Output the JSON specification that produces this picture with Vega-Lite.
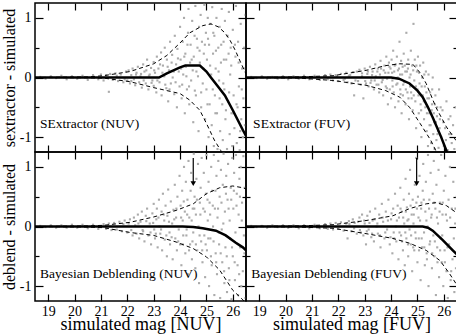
{
"$schema": "https://vega.github.io/schema/vega-lite/v6.json",
"padding": {"top": 1, "left": 0, "right": 2, "bottom": 0},
"config": {
  "view": {"stroke": "black", "strokeWidth": 1.5},
  "font": "Liberation Serif",
  "axis": {"domain": false, "grid": false, "tickColor": "black", "tickWidth": 1.2, "labelFont": "Liberation Serif", "labelFontSize": 14, "labelColor": "black", "titleFont": "Liberation Serif", "titleFontSize": 16, "titleFontWeight": "normal", "titleColor": "black", "zindex": 1, "labelFlush": false, "labelOverlap": false},
  "text": {"font": "Liberation Serif", "fontSize": 13.5, "color": "black", "align": "left", "baseline": "alphabetic"}
},
"datasets": {
"A": [{"x":18.7,"y":0.01},{"x":18.9,"y":-0.02},{"x":19.1,"y":0.02},{"x":19.3,"y":-0.01},{"x":19.5,"y":0.03},{"x":19.7,"y":-0.03},{"x":19.9,"y":0.02},{"x":20.1,"y":-0.02},{"x":20.3,"y":0.03},{"x":20.5,"y":-0.04},{"x":20.7,"y":0.04},{"x":20.9,"y":-0.03},{"x":21.0,"y":0.05},{"x":21.1,"y":-0.05},{"x":21.2,"y":0.04},{"x":21.3,"y":-0.24},{"x":21.35,"y":0.06},{"x":21.45,"y":-0.04},{"x":21.55,"y":0.07},{"x":21.65,"y":-0.06},{"x":21.75,"y":0.05},{"x":21.85,"y":-0.08},{"x":21.95,"y":0.1},
{"x":22.0,"y":-0.05},{"x":22.05,"y":0.12},{"x":22.1,"y":-0.1},{"x":22.15,"y":0.04},{"x":22.2,"y":0.15},{"x":22.25,"y":-0.03},{"x":22.3,"y":-0.13},{"x":22.35,"y":0.08},{"x":22.4,"y":0.18},{"x":22.45,"y":-0.08},{"x":22.5,"y":0.02},{"x":22.55,"y":-0.17},{"x":22.6,"y":0.22},{"x":22.65,"y":0.1},{"x":22.7,"y":-0.1},{"x":22.75,"y":0.3},{"x":22.8,"y":-0.2},{"x":22.85,"y":0.05},{"x":22.9,"y":0.16},{"x":22.95,"y":-0.05},{"x":23.0,"y":0.26},{"x":23.0,"y":-0.14},
{"x":23.05,"y":0.08},{"x":23.1,"y":-0.25},{"x":23.12,"y":0.35},{"x":23.18,"y":0.15},{"x":23.22,"y":-0.08},{"x":23.28,"y":0.42},{"x":23.3,"y":-0.3},{"x":23.35,"y":0.2},{"x":23.4,"y":0.02},{"x":23.42,"y":0.5},{"x":23.48,"y":-0.18},{"x":23.5,"y":0.3},{"x":23.55,"y":-0.4},{"x":23.58,"y":0.12},{"x":23.62,"y":0.6},{"x":23.65,"y":-0.1},{"x":23.7,"y":0.38},{"x":23.72,"y":0.0},{"x":23.78,"y":-0.28},{"x":23.8,"y":0.7},{"x":23.85,"y":0.22},{"x":23.88,"y":-0.5},{"x":23.9,"y":0.48},{"x":23.95,"y":0.1},{"x":23.98,"y":-0.15},
{"x":24.0,"y":0.85},{"x":24.02,"y":0.3},{"x":24.06,"y":-0.35},{"x":24.1,"y":0.6},{"x":24.12,"y":0.05},{"x":24.15,"y":1.0},{"x":24.18,"y":-0.6},{"x":24.2,"y":0.4},{"x":24.22,"y":0.18},{"x":24.26,"y":-0.2},{"x":24.3,"y":0.75},{"x":24.32,"y":1.15},{"x":24.35,"y":-0.45},{"x":24.38,"y":0.25},{"x":24.4,"y":0.55},{"x":24.42,"y":-0.05},{"x":24.46,"y":0.95},{"x":24.5,"y":-0.75},{"x":24.52,"y":0.35},{"x":24.55,"y":0.7},{"x":24.58,"y":1.2},{"x":24.6,"y":-0.3},{"x":24.62,"y":0.1},{"x":24.66,"y":0.5},{"x":24.7,"y":-0.9},{"x":24.72,"y":0.85},{"x":24.75,"y":0.25},{"x":24.78,"y":1.05},{"x":24.8,"y":-0.5},{"x":24.83,"y":0.6},{"x":24.86,"y":-0.1},{"x":24.9,"y":0.4},{"x":24.92,"y":1.22},{"x":24.95,"y":-0.7},{"x":24.98,"y":0.75},
{"x":25.0,"y":-0.2},{"x":25.02,"y":0.3},{"x":25.05,"y":1.0},{"x":25.08,"y":-1.0},{"x":25.1,"y":0.55},{"x":25.12,"y":-0.45},{"x":25.15,"y":0.9},{"x":25.18,"y":0.05},{"x":25.2,"y":-0.8},{"x":25.22,"y":1.18},{"x":25.25,"y":0.4},{"x":25.28,"y":-1.15},{"x":25.3,"y":0.7},{"x":25.32,"y":-0.3},{"x":25.35,"y":0.15},{"x":25.38,"y":1.0},{"x":25.4,"y":-0.6},{"x":25.42,"y":-1.2},{"x":25.45,"y":0.5},{"x":25.48,"y":-0.05},{"x":25.5,"y":0.85},{"x":25.52,"y":-0.9},{"x":25.55,"y":0.25},{"x":25.58,"y":1.15},{"x":25.6,"y":-0.45},{"x":25.62,"y":-1.05},{"x":25.65,"y":0.6},{"x":25.68,"y":-0.2},{"x":25.7,"y":0.95},{"x":25.72,"y":-0.7},{"x":25.75,"y":0.3},{"x":25.78,"y":-1.2},{"x":25.8,"y":0.7},{"x":25.82,"y":-0.4},{"x":25.85,"y":1.1},{"x":25.88,"y":-0.95},{"x":25.9,"y":0.05},{"x":25.92,"y":0.5},{"x":25.95,"y":-0.6},{"x":25.98,"y":-1.15},
{"x":26.0,"y":0.8},{"x":26.03,"y":-0.3},{"x":26.06,"y":-0.85},{"x":26.1,"y":0.35},{"x":26.12,"y":1.2},{"x":26.15,"y":-1.1},{"x":26.18,"y":-0.5},{"x":26.2,"y":0.6},{"x":26.23,"y":-0.15},{"x":26.26,"y":-1.22},{"x":26.3,"y":0.9},{"x":26.32,"y":-0.7},{"x":26.35,"y":0.15},{"x":26.38,"y":-1.0},{"x":26.4,"y":-0.35},{"x":26.43,"y":0.5},{"x":26.46,"y":-0.8},{"x":26.48,"y":1.05},
{"x":22.52,"y":0.06},{"x":22.62,"y":-0.05},{"x":22.72,"y":0.12},{"x":22.82,"y":0.03},{"x":22.92,"y":-0.09},{"x":23.02,"y":0.12},{"x":23.14,"y":-0.05},{"x":23.24,"y":0.22},{"x":23.33,"y":0.08},{"x":23.44,"y":-0.12},{"x":23.53,"y":0.18},{"x":23.6,"y":-0.2},{"x":23.68,"y":0.25},{"x":23.76,"y":0.1},{"x":23.83,"y":-0.08},{"x":23.92,"y":0.32},{"x":24.04,"y":0.15},{"x":24.08,"y":-0.12},{"x":24.16,"y":0.35},{"x":24.24,"y":0.02},{"x":24.28,"y":0.55},{"x":24.34,"y":-0.15},{"x":24.44,"y":0.3},{"x":24.48,"y":0.12},{"x":24.56,"y":-0.22},{"x":24.64,"y":0.65},{"x":24.68,"y":0.02},{"x":24.74,"y":0.45},{"x":24.8,"y":-0.25},{"x":24.88,"y":0.15},{"x":24.94,"y":0.55},{"x":25.04,"y":-0.45},{"x":25.06,"y":0.65},{"x":25.14,"y":0.2},{"x":25.24,"y":-0.2},{"x":25.26,"y":0.75},{"x":25.34,"y":-0.6},{"x":25.36,"y":0.45},{"x":25.46,"y":0.1},{"x":25.5,"y":-0.35},{"x":25.56,"y":0.55},{"x":25.64,"y":-0.1},{"x":25.66,"y":0.3},{"x":25.74,"y":-0.55},{"x":25.84,"y":0.4},{"x":25.86,"y":-0.25},{"x":25.94,"y":0.2},{"x":26.02,"y":-0.6},{"x":26.08,"y":0.55},{"x":26.14,"y":-0.45},{"x":26.22,"y":0.25},{"x":26.28,"y":-0.9},{"x":26.34,"y":-0.2},{"x":26.44,"y":0.15},{"x":21.6,"y":0.03},{"x":21.9,"y":-0.03},{"x":22.15,"y":-0.06},{"x":22.33,"y":0.05}],
"B": [{"x":18.7,"y":0.01},{"x":18.9,"y":-0.01},{"x":19.1,"y":0.02},{"x":19.3,"y":-0.02},{"x":19.5,"y":0.01},{"x":19.7,"y":-0.02},{"x":19.9,"y":0.02},{"x":20.1,"y":-0.03},{"x":20.3,"y":0.02},{"x":20.5,"y":-0.02},{"x":20.7,"y":0.03},{"x":20.9,"y":-0.03},{"x":21.1,"y":0.03},{"x":21.3,"y":-0.04},{"x":21.5,"y":0.04},{"x":21.6,"y":-0.03},{"x":21.7,"y":0.05},{"x":21.8,"y":-0.05},{"x":21.9,"y":0.04},{"x":22.0,"y":-0.06},{"x":22.1,"y":0.06},{"x":22.2,"y":-0.04},{"x":22.3,"y":0.08},{"x":22.35,"y":-0.08},{"x":22.4,"y":0.03},{"x":22.5,"y":-0.1},{"x":22.55,"y":0.09},{"x":22.6,"y":-0.3},{"x":22.7,"y":0.1},{"x":22.75,"y":-0.06},{"x":22.8,"y":0.13},{"x":22.85,"y":-0.12},{"x":22.9,"y":0.02},{"x":22.95,"y":-0.35},{"x":23.0,"y":0.15},{"x":23.05,"y":-0.1},{"x":23.1,"y":0.06},{"x":23.15,"y":-0.15},{"x":23.2,"y":0.18},{"x":23.25,"y":-0.05},{"x":23.3,"y":0.1},{"x":23.35,"y":-0.2},{"x":23.4,"y":0.22},{"x":23.42,"y":0.02},{"x":23.45,"y":-0.12},{"x":23.5,"y":0.15},{"x":23.55,"y":-0.25},{"x":23.58,"y":0.05},{"x":23.6,"y":0.28},{"x":23.65,"y":-0.08},{"x":23.7,"y":-0.3},{"x":23.72,"y":0.12},{"x":23.75,"y":0.2},{"x":23.8,"y":-0.15},{"x":23.82,"y":0.35},{"x":23.85,"y":-0.02},{"x":23.88,"y":-0.45},{"x":23.9,"y":0.08},{"x":23.92,"y":0.25},{"x":23.95,"y":-0.2},{"x":23.98,"y":0.15},
{"x":24.0,"y":-0.35},{"x":24.02,"y":0.3},{"x":24.05,"y":-0.05},{"x":24.08,"y":0.45},{"x":24.1,"y":-0.25},{"x":24.12,"y":0.1},{"x":24.15,"y":-0.5},{"x":24.18,"y":0.22},{"x":24.2,"y":-0.12},{"x":24.22,"y":0.35},{"x":24.25,"y":0.0},{"x":24.28,"y":-0.4},{"x":24.3,"y":0.15},{"x":24.32,"y":0.6},{"x":24.35,"y":-0.2},{"x":24.38,"y":0.28},{"x":24.4,"y":-0.6},{"x":24.42,"y":0.05},{"x":24.45,"y":-0.3},{"x":24.48,"y":0.4},{"x":24.5,"y":-0.08},{"x":24.52,"y":0.2},{"x":24.55,"y":-0.45},{"x":24.58,"y":0.75},{"x":24.6,"y":0.1},{"x":24.62,"y":-0.25},{"x":24.65,"y":0.3},{"x":24.68,"y":-0.7},{"x":24.7,"y":0.0},{"x":24.72,"y":-0.15},{"x":24.75,"y":0.45},{"x":24.78,"y":-0.35},{"x":24.8,"y":0.2},{"x":24.82,"y":-0.55},{"x":24.85,"y":0.9},{"x":24.88,"y":-0.05},{"x":24.9,"y":0.3},{"x":24.92,"y":-0.4},{"x":24.95,"y":-0.85},{"x":24.98,"y":0.1},
{"x":25.0,"y":-0.2},{"x":25.02,"y":0.35},{"x":25.05,"y":-0.6},{"x":25.08,"y":-0.1},{"x":25.1,"y":0.2},{"x":25.12,"y":-0.45},{"x":25.15,"y":-1.0},{"x":25.18,"y":0.0},{"x":25.2,"y":-0.3},{"x":25.22,"y":0.25},{"x":25.25,"y":-0.7},{"x":25.28,"y":-0.15},{"x":25.3,"y":-0.5},{"x":25.32,"y":0.1},{"x":25.35,"y":-0.9},{"x":25.38,"y":-0.35},{"x":25.4,"y":-1.15},{"x":25.42,"y":0.05},{"x":25.45,"y":-0.6},{"x":25.48,"y":-0.25},{"x":25.5,"y":-0.8},{"x":25.52,"y":-1.1},{"x":25.55,"y":-0.45},{"x":25.58,"y":0.0},{"x":25.6,"y":-0.95},{"x":25.62,"y":-0.6},{"x":25.65,"y":-1.2},{"x":25.68,"y":-0.3},{"x":25.7,"y":-0.75},{"x":25.72,"y":-1.05},{"x":25.75,"y":-0.5},{"x":25.78,"y":-0.9},{"x":25.8,"y":-1.18},{"x":25.82,"y":-0.2},{"x":25.85,"y":-0.7},{"x":25.9,"y":-1.0},{"x":25.95,"y":-0.55},{"x":26.0,"y":-1.15},{"x":26.05,"y":-0.85},{"x":26.1,"y":-0.4},{"x":26.15,"y":-1.22},{"x":26.2,"y":-0.95},{"x":26.25,"y":-0.65},{"x":26.3,"y":-1.1},{"x":26.35,"y":-0.8},{"x":26.4,"y":-1.2},{"x":26.45,"y":-0.5},
{"x":22.45,"y":0.04},{"x":22.65,"y":-0.05},{"x":22.9,"y":0.07},{"x":23.02,"y":-0.06},{"x":23.12,"y":0.1},{"x":23.22,"y":-0.09},{"x":23.28,"y":0.04},{"x":23.38,"y":-0.05},{"x":23.48,"y":0.1},{"x":23.52,"y":-0.12},{"x":23.62,"y":0.15},{"x":23.68,"y":-0.04},{"x":23.78,"y":0.08},{"x":23.84,"y":-0.18},{"x":23.94,"y":0.18},{"x":24.04,"y":0.08},{"x":24.06,"y":-0.15},{"x":24.14,"y":0.2},{"x":24.24,"y":-0.1},{"x":24.26,"y":0.12},{"x":24.34,"y":0.05},{"x":24.36,"y":-0.28},{"x":24.44,"y":0.18},{"x":24.46,"y":-0.12},{"x":24.54,"y":0.1},{"x":24.56,"y":-0.2},{"x":24.64,"y":0.15},{"x":24.66,"y":-0.35},{"x":24.74,"y":0.05},{"x":24.76,"y":-0.25},{"x":24.84,"y":0.12},{"x":24.86,"y":-0.3},{"x":24.94,"y":-0.15},{"x":24.96,"y":0.2},{"x":25.04,"y":-0.3},{"x":25.06,"y":0.08},{"x":25.14,"y":-0.55},{"x":25.16,"y":-0.15},{"x":25.24,"y":-0.4},{"x":25.26,"y":0.05},{"x":25.34,"y":-0.25},{"x":25.36,"y":-0.6},{"x":25.44,"y":-0.35},{"x":25.46,"y":-0.8},{"x":25.54,"y":-0.55},{"x":25.56,"y":-0.2},{"x":25.64,"y":-0.75},{"x":25.66,"y":-0.45},{"x":25.74,"y":-0.65},{"x":25.76,"y":-0.95},{"x":25.84,"y":-0.85},{"x":25.88,"y":-0.5},{"x":25.98,"y":-0.75},{"x":26.08,"y":-1.05},{"x":26.18,"y":-0.7},{"x":26.28,"y":-0.95},{"x":21.95,"y":0.02},{"x":22.25,"y":-0.02}],
"C": [{"x":18.7,"y":0.01},{"x":18.9,"y":-0.01},{"x":19.1,"y":0.02},{"x":19.3,"y":-0.02},{"x":19.5,"y":0.02},{"x":19.7,"y":-0.02},{"x":19.9,"y":0.03},{"x":20.1,"y":-0.02},{"x":20.3,"y":0.03},{"x":20.5,"y":-0.03},{"x":20.7,"y":0.03},{"x":20.9,"y":-0.04},{"x":21.1,"y":0.04},{"x":21.2,"y":-0.04},{"x":21.3,"y":0.05},{"x":21.4,"y":-0.06},{"x":21.5,"y":0.06},{"x":21.6,"y":-0.05},{"x":21.7,"y":0.08},{"x":21.8,"y":-0.08},{"x":21.85,"y":0.04},{"x":21.9,"y":0.1},{"x":22.0,"y":-0.1},{"x":22.05,"y":0.05},{"x":22.1,"y":0.12},{"x":22.15,"y":-0.06},{"x":22.2,"y":-0.15},{"x":22.25,"y":0.15},{"x":22.3,"y":0.02},{"x":22.35,"y":-0.12},{"x":22.4,"y":0.2},{"x":22.45,"y":-0.2},{"x":22.5,"y":0.08},{"x":22.55,"y":0.25},{"x":22.6,"y":-0.08},{"x":22.65,"y":-0.25},{"x":22.7,"y":0.18},{"x":22.75,"y":0.3},{"x":22.8,"y":-0.15},{"x":22.85,"y":0.05},{"x":22.9,"y":-0.3},{"x":22.95,"y":0.22},
{"x":23.0,"y":0.38},{"x":23.02,"y":-0.05},{"x":23.05,"y":-0.2},{"x":23.1,"y":0.12},{"x":23.12,"y":0.3},{"x":23.15,"y":-0.35},{"x":23.2,"y":0.45},{"x":23.22,"y":0.0},{"x":23.25,"y":-0.12},{"x":23.3,"y":0.25},{"x":23.32,"y":-0.4},{"x":23.35,"y":0.55},{"x":23.4,"y":0.1},{"x":23.42,"y":-0.22},{"x":23.45,"y":0.35},{"x":23.5,"y":-0.5},{"x":23.52,"y":0.18},{"x":23.55,"y":0.62},{"x":23.6,"y":-0.1},{"x":23.62,"y":-0.3},{"x":23.65,"y":0.42},{"x":23.7,"y":0.05},{"x":23.72,"y":-0.55},{"x":23.75,"y":0.28},{"x":23.8,"y":0.7},{"x":23.82,"y":-0.2},{"x":23.85,"y":0.15},{"x":23.88,"y":-0.4},{"x":23.9,"y":0.5},{"x":23.95,"y":-0.05},{"x":23.98,"y":0.85},
{"x":24.0,"y":-0.3},{"x":24.02,"y":0.35},{"x":24.05,"y":-0.65},{"x":24.08,"y":0.6},{"x":24.1,"y":0.1},{"x":24.12,"y":-0.15},{"x":24.15,"y":1.0},{"x":24.18,"y":0.25},{"x":24.2,"y":-0.45},{"x":24.22,"y":0.75},{"x":24.25,"y":-0.05},{"x":24.28,"y":0.45},{"x":24.3,"y":-0.8},{"x":24.32,"y":1.1},{"x":24.35,"y":0.15},{"x":24.38,"y":-0.3},{"x":24.4,"y":0.6},{"x":24.42,"y":0.9},{"x":24.45,"y":-0.55},{"x":24.48,"y":0.3},{"x":24.5,"y":-0.1},{"x":24.52,"y":1.22},{"x":24.55,"y":0.5},{"x":24.58,"y":-0.7},{"x":24.6,"y":0.2},{"x":24.62,"y":0.8},{"x":24.65,"y":-0.4},{"x":24.68,"y":1.05},{"x":24.7,"y":0.0},{"x":24.72,"y":-0.95},{"x":24.75,"y":0.4},{"x":24.78,"y":0.65},{"x":24.8,"y":-0.25},{"x":24.82,"y":1.15},{"x":24.85,"y":-0.6},{"x":24.88,"y":0.3},{"x":24.9,"y":0.9},{"x":24.92,"y":-0.15},{"x":24.95,"y":-0.85},{"x":24.98,"y":0.55},
{"x":25.0,"y":1.2},{"x":25.02,"y":-0.4},{"x":25.05,"y":0.1},{"x":25.08,"y":0.75},{"x":25.1,"y":-1.0},{"x":25.12,"y":0.4},{"x":25.15,"y":-0.2},{"x":25.18,"y":1.0},{"x":25.2,"y":-0.65},{"x":25.22,"y":0.6},{"x":25.25,"y":0.0},{"x":25.28,"y":1.2},{"x":25.3,"y":-1.15},{"x":25.32,"y":0.3},{"x":25.35,"y":-0.45},{"x":25.38,"y":0.85},{"x":25.4,"y":-0.8},{"x":25.42,"y":0.15},{"x":25.45,"y":1.1},{"x":25.48,"y":-0.3},{"x":25.5,"y":0.5},{"x":25.52,"y":-1.2},{"x":25.55,"y":0.95},{"x":25.58,"y":-0.05},{"x":25.6,"y":-0.6},{"x":25.62,"y":0.7},{"x":25.65,"y":1.22},{"x":25.68,"y":-0.95},{"x":25.7,"y":0.25},{"x":25.72,"y":-0.35},{"x":25.75,"y":0.85},{"x":25.78,"y":-1.1},{"x":25.8,"y":0.45},{"x":25.82,"y":1.05},{"x":25.85,"y":-0.7},{"x":25.88,"y":0.1},{"x":25.9,"y":-0.2},{"x":25.92,"y":0.65},{"x":25.95,"y":-1.22},{"x":25.98,"y":1.15},
{"x":26.0,"y":-0.5},{"x":26.02,"y":0.3},{"x":26.05,"y":0.9},{"x":26.08,"y":-0.9},{"x":26.1,"y":-0.1},{"x":26.12,"y":1.2},{"x":26.15,"y":0.55},{"x":26.18,"y":-0.65},{"x":26.2,"y":-1.15},{"x":26.22,"y":0.2},{"x":26.25,"y":0.8},{"x":26.28,"y":-0.35},{"x":26.3,"y":1.0},{"x":26.32,"y":-1.0},{"x":26.35,"y":0.4},{"x":26.38,"y":-0.75},{"x":26.4,"y":1.18},{"x":26.42,"y":-0.15},{"x":26.45,"y":0.65},{"x":26.48,"y":-1.2},
{"x":22.42,"y":0.05},{"x":22.58,"y":-0.06},{"x":22.72,"y":0.09},{"x":22.88,"y":-0.1},{"x":22.98,"y":0.06},{"x":23.08,"y":-0.12},{"x":23.18,"y":0.15},{"x":23.28,"y":-0.05},{"x":23.38,"y":0.2},{"x":23.48,"y":-0.15},{"x":23.58,"y":0.08},{"x":23.68,"y":-0.18},{"x":23.78,"y":0.12},{"x":23.86,"y":0.3},{"x":23.93,"y":-0.25},{"x":24.04,"y":0.15},{"x":24.1,"y":-0.3},{"x":24.14,"y":0.42},{"x":24.24,"y":-0.15},{"x":24.27,"y":0.2},{"x":24.34,"y":-0.4},{"x":24.44,"y":0.1},{"x":24.47,"y":-0.25},{"x":24.54,"y":0.3},{"x":24.6,"y":-0.3},{"x":24.64,"y":0.45},{"x":24.74,"y":-0.15},{"x":24.77,"y":0.2},{"x":24.84,"y":-0.4},{"x":24.94,"y":0.25},{"x":24.97,"y":-0.3},{"x":25.04,"y":0.45},{"x":25.07,"y":-0.2},{"x":25.14,"y":0.2},{"x":25.17,"y":-0.5},{"x":25.24,"y":0.35},{"x":25.27,"y":-0.25},{"x":25.34,"y":0.6},{"x":25.37,"y":-0.6},{"x":25.44,"y":0.3},{"x":25.47,"y":-0.1},{"x":25.54,"y":-0.45},{"x":25.57,"y":0.4},{"x":25.64,"y":0.05},{"x":25.67,"y":-0.75},{"x":25.74,"y":0.55},{"x":25.77,"y":-0.5},{"x":25.84,"y":0.3},{"x":25.87,"y":-0.9},{"x":25.94,"y":0.45},{"x":25.97,"y":-0.35},{"x":26.04,"y":0.6},{"x":26.07,"y":-0.6},{"x":26.14,"y":0.35},{"x":26.24,"y":-0.8},{"x":26.27,"y":0.5},{"x":26.34,"y":0.1},{"x":26.44,"y":-0.45}],
"D": [{"x":18.7,"y":0.01},{"x":18.9,"y":-0.01},{"x":19.1,"y":0.01},{"x":19.3,"y":-0.02},{"x":19.5,"y":0.02},{"x":19.7,"y":-0.01},{"x":19.9,"y":0.02},{"x":20.1,"y":-0.02},{"x":20.3,"y":0.02},{"x":20.5,"y":-0.03},{"x":20.7,"y":0.02},{"x":20.9,"y":-0.03},{"x":21.1,"y":0.03},{"x":21.3,"y":-0.03},{"x":21.5,"y":0.04},{"x":21.6,"y":-0.04},{"x":21.7,"y":0.05},{"x":21.8,"y":-0.05},{"x":21.9,"y":0.06},{"x":22.0,"y":-0.04},{"x":22.1,"y":0.07},{"x":22.2,"y":-0.07},{"x":22.3,"y":0.05},{"x":22.35,"y":-0.2},{"x":22.4,"y":0.09},{"x":22.5,"y":-0.08},{"x":22.55,"y":0.12},{"x":22.6,"y":-0.03},{"x":22.7,"y":-0.12},{"x":22.75,"y":0.08},{"x":22.8,"y":0.15},{"x":22.85,"y":-0.1},{"x":22.9,"y":0.2},{"x":22.95,"y":-0.15},
{"x":23.0,"y":0.05},{"x":23.05,"y":-0.3},{"x":23.1,"y":0.18},{"x":23.15,"y":-0.05},{"x":23.2,"y":0.25},{"x":23.25,"y":-0.18},{"x":23.3,"y":0.1},{"x":23.35,"y":-0.25},{"x":23.4,"y":0.3},{"x":23.45,"y":0.0},{"x":23.5,"y":-0.12},{"x":23.55,"y":0.2},{"x":23.6,"y":-0.35},{"x":23.65,"y":0.38},{"x":23.7,"y":0.08},{"x":23.75,"y":-0.2},{"x":23.8,"y":0.25},{"x":23.85,"y":-0.05},{"x":23.9,"y":0.45},{"x":23.95,"y":-0.3},
{"x":24.0,"y":0.12},{"x":24.05,"y":-0.45},{"x":24.08,"y":0.3},{"x":24.1,"y":-0.1},{"x":24.15,"y":0.55},{"x":24.18,"y":0.0},{"x":24.2,"y":-0.25},{"x":24.25,"y":0.35},{"x":24.28,"y":-0.55},{"x":24.3,"y":0.15},{"x":24.35,"y":0.65},{"x":24.38,"y":-0.15},{"x":24.4,"y":0.25},{"x":24.45,"y":-0.4},{"x":24.48,"y":0.45},{"x":24.5,"y":0.05},{"x":24.52,"y":-0.65},{"x":24.55,"y":0.8},{"x":24.58,"y":-0.2},{"x":24.6,"y":0.32},{"x":24.62,"y":0.1},{"x":24.65,"y":-0.5},{"x":24.68,"y":0.55},{"x":24.7,"y":-0.05},{"x":24.72,"y":0.95},{"x":24.75,"y":-0.3},{"x":24.78,"y":0.2},{"x":24.8,"y":-0.75},{"x":24.82,"y":0.45},{"x":24.85,"y":0.05},{"x":24.88,"y":-0.4},{"x":24.9,"y":0.7},{"x":24.92,"y":-0.1},{"x":24.95,"y":1.15},{"x":24.98,"y":0.3},
{"x":25.0,"y":-0.6},{"x":25.02,"y":0.5},{"x":25.05,"y":-0.2},{"x":25.08,"y":0.85},{"x":25.1,"y":0.1},{"x":25.12,"y":-0.9},{"x":25.15,"y":0.4},{"x":25.18,"y":-0.35},{"x":25.2,"y":0.6},{"x":25.22,"y":1.05},{"x":25.25,"y":-0.1},{"x":25.28,"y":-0.65},{"x":25.3,"y":0.25},{"x":25.32,"y":0.75},{"x":25.35,"y":-0.45},{"x":25.38,"y":0.0},{"x":25.4,"y":1.2},{"x":25.42,"y":-1.0},{"x":25.45,"y":0.45},{"x":25.48,"y":-0.25},{"x":25.5,"y":0.9},{"x":25.52,"y":0.15},{"x":25.55,"y":-0.7},{"x":25.58,"y":0.55},{"x":25.6,"y":-0.15},{"x":25.62,"y":1.1},{"x":25.65,"y":-0.5},{"x":25.68,"y":0.3},{"x":25.7,"y":-1.15},{"x":25.72,"y":0.7},{"x":25.75,"y":-0.35},{"x":25.78,"y":0.05},{"x":25.8,"y":0.95},{"x":25.82,"y":-0.85},{"x":25.85,"y":0.4},{"x":25.88,"y":-0.2},{"x":25.9,"y":1.2},{"x":25.92,"y":-0.6},{"x":25.95,"y":0.2},{"x":25.98,"y":-1.0},
{"x":26.0,"y":0.6},{"x":26.03,"y":-0.4},{"x":26.06,"y":0.85},{"x":26.1,"y":-0.75},{"x":26.12,"y":0.1},{"x":26.15,"y":-1.2},{"x":26.18,"y":0.45},{"x":26.2,"y":-0.3},{"x":26.23,"y":1.0},{"x":26.26,"y":-0.9},{"x":26.3,"y":0.3},{"x":26.33,"y":-0.55},{"x":26.36,"y":0.75},{"x":26.4,"y":-1.1},{"x":26.43,"y":0.05},{"x":26.46,"y":-0.7},{"x":26.49,"y":0.5},
{"x":22.42,"y":0.04},{"x":22.62,"y":0.06},{"x":22.82,"y":-0.06},{"x":22.98,"y":0.1},{"x":23.08,"y":-0.08},{"x":23.18,"y":0.06},{"x":23.28,"y":-0.12},{"x":23.38,"y":0.12},{"x":23.48,"y":0.05},{"x":23.58,"y":-0.15},{"x":23.68,"y":0.15},{"x":23.78,"y":-0.1},{"x":23.88,"y":0.1},{"x":23.98,"y":-0.18},{"x":24.02,"y":0.22},{"x":24.12,"y":-0.2},{"x":24.22,"y":0.1},{"x":24.32,"y":-0.1},{"x":24.36,"y":0.3},{"x":24.42,"y":-0.25},{"x":24.46,"y":0.15},{"x":24.54,"y":-0.1},{"x":24.56,"y":0.25},{"x":24.64,"y":-0.3},{"x":24.66,"y":0.12},{"x":24.74,"y":0.35},{"x":24.76,"y":-0.15},{"x":24.84,"y":-0.35},{"x":24.86,"y":0.2},{"x":24.94,"y":-0.2},{"x":24.96,"y":0.4},{"x":25.04,"y":0.15},{"x":25.06,"y":-0.4},{"x":25.14,"y":0.3},{"x":25.16,"y":-0.2},{"x":25.24,"y":0.45},{"x":25.26,"y":-0.35},{"x":25.34,"y":0.1},{"x":25.36,"y":-0.55},{"x":25.44,"y":0.3},{"x":25.46,"y":-0.3},{"x":25.54,"y":0.2},{"x":25.56,"y":-0.45},{"x":25.64,"y":0.4},{"x":25.66,"y":-0.25},{"x":25.74,"y":0.15},{"x":25.76,"y":-0.6},{"x":25.84,"y":0.25},{"x":25.86,"y":-0.4},{"x":25.94,"y":-0.15},{"x":25.96,"y":0.4},{"x":26.04,"y":-0.6},{"x":26.08,"y":0.2},{"x":26.14,"y":-0.35},{"x":26.24,"y":0.15},{"x":26.28,"y":-0.75},{"x":26.38,"y":-0.2},{"x":26.44,"y":0.3}],
"LA": [{"s":"m","x":18.5,"y":0},{"s":"m","x":23.2,"y":0},{"s":"m","x":23.5,"y":0.07},{"s":"m","x":24.0,"y":0.17},{"s":"m","x":24.2,"y":0.2},{"s":"m","x":24.75,"y":0.2},{"s":"m","x":25.0,"y":0.1},{"s":"m","x":25.17,"y":0},{"s":"m","x":25.4,"y":-0.13},{"s":"m","x":25.7,"y":-0.3},{"s":"m","x":26.0,"y":-0.55},{"s":"m","x":26.38,"y":-0.88},{"s":"m","x":26.5,"y":-0.98},
{"s":"u","x":18.5,"y":0},{"s":"u","x":20.5,"y":0.01},{"s":"u","x":21.1,"y":0.03},{"s":"u","x":22.1,"y":0.1},{"s":"u","x":23.0,"y":0.23},{"s":"u","x":23.5,"y":0.37},{"s":"u","x":24.0,"y":0.58},{"s":"u","x":24.37,"y":0.75},{"s":"u","x":24.86,"y":0.87},{"s":"u","x":25.17,"y":0.9},{"s":"u","x":25.45,"y":0.85},{"s":"u","x":25.7,"y":0.75},{"s":"u","x":25.9,"y":0.62},{"s":"u","x":26.1,"y":0.45},{"s":"u","x":26.3,"y":0.25},{"s":"u","x":26.5,"y":0.06},
{"s":"l","x":18.5,"y":0},{"s":"l","x":20.5,"y":-0.005},{"s":"l","x":21.1,"y":-0.01},{"s":"l","x":22.1,"y":-0.07},{"s":"l","x":23.0,"y":-0.17},{"s":"l","x":23.5,"y":-0.22},{"s":"l","x":24.0,"y":-0.27},{"s":"l","x":24.37,"y":-0.38},{"s":"l","x":24.75,"y":-0.55},{"s":"l","x":25.0,"y":-0.77},{"s":"l","x":25.3,"y":-1.05},{"s":"l","x":25.55,"y":-1.23},{"s":"l","x":25.7,"y":-1.45}],
"LB": [{"s":"m","x":18.5,"y":0},{"s":"m","x":24.0,"y":0},{"s":"m","x":24.3,"y":-0.02},{"s":"m","x":24.7,"y":-0.1},{"s":"m","x":25.0,"y":-0.22},{"s":"m","x":25.2,"y":-0.33},{"s":"m","x":25.4,"y":-0.5},{"s":"m","x":25.58,"y":-0.67},{"s":"m","x":25.9,"y":-1.0},{"s":"m","x":26.1,"y":-1.23},{"s":"m","x":26.2,"y":-1.35},
{"s":"u","x":18.5,"y":0},{"s":"u","x":20.5,"y":0.01},{"s":"u","x":21.8,"y":0.03},{"s":"u","x":23.05,"y":0.12},{"s":"u","x":23.8,"y":0.2},{"s":"u","x":24.33,"y":0.23},{"s":"u","x":24.83,"y":0.22},{"s":"u","x":25.1,"y":0.08},{"s":"u","x":25.33,"y":-0.1},{"s":"u","x":25.7,"y":-0.5},{"s":"u","x":26.1,"y":-0.83},{"s":"u","x":26.5,"y":-1.08},
{"s":"l","x":18.5,"y":0},{"s":"l","x":20.5,"y":-0.01},{"s":"l","x":21.8,"y":-0.05},{"s":"l","x":23.05,"y":-0.13},{"s":"l","x":23.8,"y":-0.22},{"s":"l","x":24.33,"y":-0.33},{"s":"l","x":24.7,"y":-0.5},{"s":"l","x":25.1,"y":-0.77},{"s":"l","x":25.5,"y":-1.05},{"s":"l","x":25.7,"y":-1.23},{"s":"l","x":25.8,"y":-1.35}],
"LC": [{"s":"m","x":18.5,"y":0},{"s":"m","x":24.1,"y":0},{"s":"m","x":24.5,"y":-0.01},{"s":"m","x":24.86,"y":-0.03},{"s":"m","x":25.36,"y":-0.07},{"s":"m","x":25.73,"y":-0.15},{"s":"m","x":26.1,"y":-0.27},{"s":"m","x":26.38,"y":-0.35},{"s":"m","x":26.5,"y":-0.4},
{"s":"u","x":18.5,"y":0},{"s":"u","x":20.5,"y":0.01},{"s":"u","x":21.1,"y":0.02},{"s":"u","x":22.1,"y":0.07},{"s":"u","x":23.0,"y":0.16},{"s":"u","x":23.85,"y":0.27},{"s":"u","x":24.5,"y":0.38},{"s":"u","x":25.0,"y":0.55},{"s":"u","x":25.5,"y":0.65},{"s":"u","x":26.0,"y":0.68},{"s":"u","x":26.38,"y":0.65},{"s":"u","x":26.5,"y":0.63},
{"s":"l","x":18.5,"y":0},{"s":"l","x":20.5,"y":-0.01},{"s":"l","x":21.1,"y":-0.02},{"s":"l","x":22.1,"y":-0.1},{"s":"l","x":23.0,"y":-0.15},{"s":"l","x":23.85,"y":-0.26},{"s":"l","x":24.5,"y":-0.37},{"s":"l","x":25.0,"y":-0.51},{"s":"l","x":25.5,"y":-0.73},{"s":"l","x":26.0,"y":-1.07},{"s":"l","x":26.38,"y":-1.23},{"s":"l","x":26.5,"y":-1.3}],
"LD": [{"s":"m","x":18.5,"y":0},{"s":"m","x":25.2,"y":0},{"s":"m","x":25.4,"y":-0.02},{"s":"m","x":25.58,"y":-0.07},{"s":"m","x":25.96,"y":-0.23},{"s":"m","x":26.34,"y":-0.4},{"s":"m","x":26.5,"y":-0.47},
{"s":"u","x":18.5,"y":0},{"s":"u","x":20.5,"y":0.01},{"s":"u","x":21.8,"y":0.03},{"s":"u","x":23.05,"y":0.1},{"s":"u","x":24.07,"y":0.18},{"s":"u","x":24.7,"y":0.3},{"s":"u","x":25.33,"y":0.38},{"s":"u","x":25.7,"y":0.4},{"s":"u","x":26.1,"y":0.35},{"s":"u","x":26.45,"y":0.24},{"s":"u","x":26.5,"y":0.22},
{"s":"l","x":18.5,"y":0},{"s":"l","x":20.5,"y":-0.01},{"s":"l","x":21.8,"y":-0.03},{"s":"l","x":23.05,"y":-0.12},{"s":"l","x":24.07,"y":-0.2},{"s":"l","x":24.7,"y":-0.28},{"s":"l","x":25.33,"y":-0.4},{"s":"l","x":25.85,"y":-0.57},{"s":"l","x":26.2,"y":-0.78},{"s":"l","x":26.45,"y":-0.95},{"s":"l","x":26.5,"y":-0.98}]
},
"columns": 2,
"spacing": 0,
"bounds": "flush",
"concat": [
{
 "width": 211, "height": 149,
 "resolve": {"axis": {"x": "independent", "y": "independent"}},
 "layer": [
  {"data": {"name": "A"}, "mark": {"type": "square", "size": 4.5, "color": "#ababab", "opacity": 1, "clip": true},
   "encoding": {
    "x": {"field": "x", "type": "quantitative", "scale": {"domain": [18.5, 26.5], "nice": false, "zero": false}, "axis": {"orient": "bottom", "values": [19,20,21,22,23,24,25,26], "tickSize": -7, "labels": false, "title": null}},
    "y": {"field": "y", "type": "quantitative", "scale": {"domain": [-1.25, 1.25], "nice": false, "zero": false}, "axis": {"orient": "left", "values": [-1,0,1], "tickSize": -8, "labelPadding": 12, "labelExpr": "datum.value == -1 ? '-1' : datum.value == 0 ? '0' : '1'", "title": "sextractor - simulated", "titlePadding": 2}}}},
  {"mark": {"type": "rule", "color": "#888888", "strokeWidth": 1.5}, "encoding": {"y": {"datum": 0, "type": "quantitative", "axis": {"orient": "left", "values": [-0.5, 0.5], "tickSize": -4, "labels": false, "title": null}}}},
  {"data": {"name": "LA"}, "transform": [{"filter": "datum.s != 'm'"}], "mark": {"type": "line", "color": "black", "strokeWidth": 1, "strokeDash": [4, 3], "clip": true},
   "encoding": {
    "x": {"field": "x", "type": "quantitative", "axis": {"orient": "top", "values": [19,20,21,22,23,24,25,26], "tickSize": -7, "labels": false, "title": null}},
    "y": {"field": "y", "type": "quantitative", "axis": {"orient": "right", "values": [-1,0,1], "tickSize": -8, "labels": false, "title": null}},
    "detail": {"field": "s"}}},
  {"data": {"name": "LA"}, "transform": [{"filter": "datum.s == 'm'"}], "mark": {"type": "line", "color": "black", "strokeWidth": 2.5, "clip": true},
   "encoding": {
    "x": {"field": "x", "type": "quantitative", "axis": null},
    "y": {"field": "y", "type": "quantitative", "axis": {"orient": "right", "values": [-0.5, 0.5], "tickSize": -4, "labels": false, "title": null}}}},
  {"data": {"values": [{"x": 18.69, "y": -0.84, "t": "SExtractor (NUV)"}]}, "mark": {"type": "text"},
   "encoding": {"x": {"field": "x", "type": "quantitative", "axis": null}, "y": {"field": "y", "type": "quantitative", "axis": null}, "text": {"field": "t"}}},
  {"mark": {"type": "rule", "color": "#888888", "strokeWidth": 2, "clip": false}, "encoding": {"x": {"datum": 26.5, "type": "quantitative", "axis": null}}},
  {"mark": {"type": "rule", "color": "#888888", "strokeWidth": 2, "clip": false}, "encoding": {"y": {"datum": -1.25, "type": "quantitative", "axis": null}}}
 ]
},
{
 "width": 211, "height": 149,
 "resolve": {"axis": {"x": "independent", "y": "independent"}},
 "layer": [
  {"data": {"name": "B"}, "mark": {"type": "square", "size": 4.5, "color": "#ababab", "opacity": 1, "clip": true},
   "encoding": {
    "x": {"field": "x", "type": "quantitative", "scale": {"domain": [18.5, 26.5], "nice": false, "zero": false}, "axis": {"orient": "bottom", "values": [19,20,21,22,23,24,25,26], "tickSize": -7, "labels": false, "title": null}},
    "y": {"field": "y", "type": "quantitative", "scale": {"domain": [-1.25, 1.25], "nice": false, "zero": false}, "axis": {"orient": "left", "values": [-1,0,1], "tickSize": -8, "labels": false, "title": null}}}},
  {"mark": {"type": "rule", "color": "#888888", "strokeWidth": 1.5}, "encoding": {"y": {"datum": 0, "type": "quantitative", "axis": {"orient": "left", "values": [-0.5, 0.5], "tickSize": -4, "labels": false, "title": null}}}},
  {"data": {"name": "LB"}, "transform": [{"filter": "datum.s != 'm'"}], "mark": {"type": "line", "color": "black", "strokeWidth": 1, "strokeDash": [4, 3], "clip": true},
   "encoding": {
    "x": {"field": "x", "type": "quantitative", "axis": {"orient": "top", "values": [19,20,21,22,23,24,25,26], "tickSize": -7, "labels": false, "title": null}},
    "y": {"field": "y", "type": "quantitative", "axis": {"orient": "right", "values": [-1,0,1], "tickSize": -8, "labels": false, "title": null}},
    "detail": {"field": "s"}}},
  {"data": {"name": "LB"}, "transform": [{"filter": "datum.s == 'm'"}], "mark": {"type": "line", "color": "black", "strokeWidth": 2.5, "clip": true},
   "encoding": {
    "x": {"field": "x", "type": "quantitative", "axis": null},
    "y": {"field": "y", "type": "quantitative", "axis": {"orient": "right", "values": [-0.5, 0.5], "tickSize": -4, "labels": false, "title": null}}}},
  {"data": {"values": [{"x": 18.77, "y": -0.85, "t": "SExtractor (FUV)"}]}, "mark": {"type": "text"},
   "encoding": {"x": {"field": "x", "type": "quantitative", "axis": null}, "y": {"field": "y", "type": "quantitative", "axis": null}, "text": {"field": "t"}}},
  {"mark": {"type": "rule", "color": "#888888", "strokeWidth": 2, "clip": false}, "encoding": {"x": {"datum": 18.5, "type": "quantitative", "axis": null}}},
  {"mark": {"type": "rule", "color": "#888888", "strokeWidth": 2, "clip": false}, "encoding": {"y": {"datum": -1.25, "type": "quantitative", "axis": null}}}
 ]
},
{
 "width": 211, "height": 149,
 "resolve": {"axis": {"x": "independent", "y": "independent"}},
 "layer": [
  {"data": {"name": "C"}, "mark": {"type": "square", "size": 4.5, "color": "#ababab", "opacity": 1, "clip": true},
   "encoding": {
    "x": {"field": "x", "type": "quantitative", "scale": {"domain": [18.5, 26.5], "nice": false, "zero": false}, "axis": {"orient": "bottom", "values": [19,20,21,22,23,24,25,26], "tickSize": -7, "labelPadding": 10, "title": "simulated mag [NUV]", "titleFontSize": 18, "titlePadding": -3}},
    "y": {"field": "y", "type": "quantitative", "scale": {"domain": [-1.25, 1.25], "nice": false, "zero": false}, "axis": {"orient": "left", "values": [-1,0,1], "tickSize": -8, "labelPadding": 12, "labelExpr": "datum.value == -1 ? '-1' : datum.value == 0 ? '0' : '1'", "title": "deblend - simulated", "titlePadding": 2}}}},
  {"mark": {"type": "rule", "color": "#888888", "strokeWidth": 1.5}, "encoding": {"y": {"datum": 0, "type": "quantitative", "axis": {"orient": "left", "values": [-0.5, 0.5], "tickSize": -4, "labels": false, "title": null}}}},
  {"data": {"name": "LC"}, "transform": [{"filter": "datum.s != 'm'"}], "mark": {"type": "line", "color": "black", "strokeWidth": 1, "strokeDash": [4, 3], "clip": true},
   "encoding": {
    "x": {"field": "x", "type": "quantitative", "axis": {"orient": "top", "values": [19,20,21,22,23,24,25,26], "tickSize": -7, "labels": false, "title": null}},
    "y": {"field": "y", "type": "quantitative", "axis": {"orient": "right", "values": [-1,0,1], "tickSize": -8, "labels": false, "title": null}},
    "detail": {"field": "s"}}},
  {"data": {"name": "LC"}, "transform": [{"filter": "datum.s == 'm'"}], "mark": {"type": "line", "color": "black", "strokeWidth": 2.5, "clip": true},
   "encoding": {
    "x": {"field": "x", "type": "quantitative", "axis": null},
    "y": {"field": "y", "type": "quantitative", "axis": {"orient": "right", "values": [-0.5, 0.5], "tickSize": -4, "labels": false, "title": null}}}},
  {"data": {"values": [{"x": 18.69, "y": -0.87, "t": "Bayesian Deblending (NUV)"}]}, "mark": {"type": "text"},
   "encoding": {"x": {"field": "x", "type": "quantitative", "axis": null}, "y": {"field": "y", "type": "quantitative", "axis": null}, "text": {"field": "t"}}},
  {"data": {"values": [{"x": 24.5, "y": 1.15, "y2": 0.74}]}, "mark": {"type": "rule", "color": "black", "strokeWidth": 1.2},
   "encoding": {"x": {"field": "x", "type": "quantitative", "axis": null}, "y": {"field": "y", "type": "quantitative", "axis": null}, "y2": {"field": "y2"}}},
  {"data": {"values": [{"x": 24.5, "y": 0.72}]}, "mark": {"type": "point", "shape": "triangle-down", "size": 30, "filled": true, "color": "black", "opacity": 1},
   "encoding": {"x": {"field": "x", "type": "quantitative", "axis": null}, "y": {"field": "y", "type": "quantitative", "axis": null}}},
  {"mark": {"type": "rule", "color": "#888888", "strokeWidth": 2, "clip": false}, "encoding": {"x": {"datum": 26.5, "type": "quantitative", "axis": null}}},
  {"mark": {"type": "rule", "color": "#888888", "strokeWidth": 2, "clip": false}, "encoding": {"y": {"datum": 1.25, "type": "quantitative", "axis": null}}}
 ]
},
{
 "width": 211, "height": 149,
 "resolve": {"axis": {"x": "independent", "y": "independent"}},
 "layer": [
  {"data": {"name": "D"}, "mark": {"type": "square", "size": 4.5, "color": "#ababab", "opacity": 1, "clip": true},
   "encoding": {
    "x": {"field": "x", "type": "quantitative", "scale": {"domain": [18.5, 26.5], "nice": false, "zero": false}, "axis": {"orient": "bottom", "values": [19,20,21,22,23,24,25,26], "tickSize": -7, "labelPadding": 10, "title": "simulated mag [FUV]", "titleFontSize": 18, "titlePadding": -3}},
    "y": {"field": "y", "type": "quantitative", "scale": {"domain": [-1.25, 1.25], "nice": false, "zero": false}, "axis": {"orient": "left", "values": [-1,0,1], "tickSize": -8, "labels": false, "title": null}}}},
  {"mark": {"type": "rule", "color": "#888888", "strokeWidth": 1.5}, "encoding": {"y": {"datum": 0, "type": "quantitative", "axis": {"orient": "left", "values": [-0.5, 0.5], "tickSize": -4, "labels": false, "title": null}}}},
  {"data": {"name": "LD"}, "transform": [{"filter": "datum.s != 'm'"}], "mark": {"type": "line", "color": "black", "strokeWidth": 1, "strokeDash": [4, 3], "clip": true},
   "encoding": {
    "x": {"field": "x", "type": "quantitative", "axis": {"orient": "top", "values": [19,20,21,22,23,24,25,26], "tickSize": -7, "labels": false, "title": null}},
    "y": {"field": "y", "type": "quantitative", "axis": {"orient": "right", "values": [-1,0,1], "tickSize": -8, "labels": false, "title": null}},
    "detail": {"field": "s"}}},
  {"data": {"name": "LD"}, "transform": [{"filter": "datum.s == 'm'"}], "mark": {"type": "line", "color": "black", "strokeWidth": 2.5, "clip": true},
   "encoding": {
    "x": {"field": "x", "type": "quantitative", "axis": null},
    "y": {"field": "y", "type": "quantitative", "axis": {"orient": "right", "values": [-0.5, 0.5], "tickSize": -4, "labels": false, "title": null}}}},
  {"data": {"values": [{"x": 18.7, "y": -0.87, "t": "Bayesian Deblending (FUV)"}]}, "mark": {"type": "text"},
   "encoding": {"x": {"field": "x", "type": "quantitative", "axis": null}, "y": {"field": "y", "type": "quantitative", "axis": null}, "text": {"field": "t"}}},
  {"data": {"values": [{"x": 24.97, "y": 1.15, "y2": 0.74}]}, "mark": {"type": "rule", "color": "black", "strokeWidth": 1.2},
   "encoding": {"x": {"field": "x", "type": "quantitative", "axis": null}, "y": {"field": "y", "type": "quantitative", "axis": null}, "y2": {"field": "y2"}}},
  {"data": {"values": [{"x": 24.97, "y": 0.72}]}, "mark": {"type": "point", "shape": "triangle-down", "size": 30, "filled": true, "color": "black", "opacity": 1},
   "encoding": {"x": {"field": "x", "type": "quantitative", "axis": null}, "y": {"field": "y", "type": "quantitative", "axis": null}}},
  {"mark": {"type": "rule", "color": "#888888", "strokeWidth": 2, "clip": false}, "encoding": {"x": {"datum": 18.5, "type": "quantitative", "axis": null}}},
  {"mark": {"type": "rule", "color": "#888888", "strokeWidth": 2, "clip": false}, "encoding": {"y": {"datum": 1.25, "type": "quantitative", "axis": null}}}
 ]
}
]
}
